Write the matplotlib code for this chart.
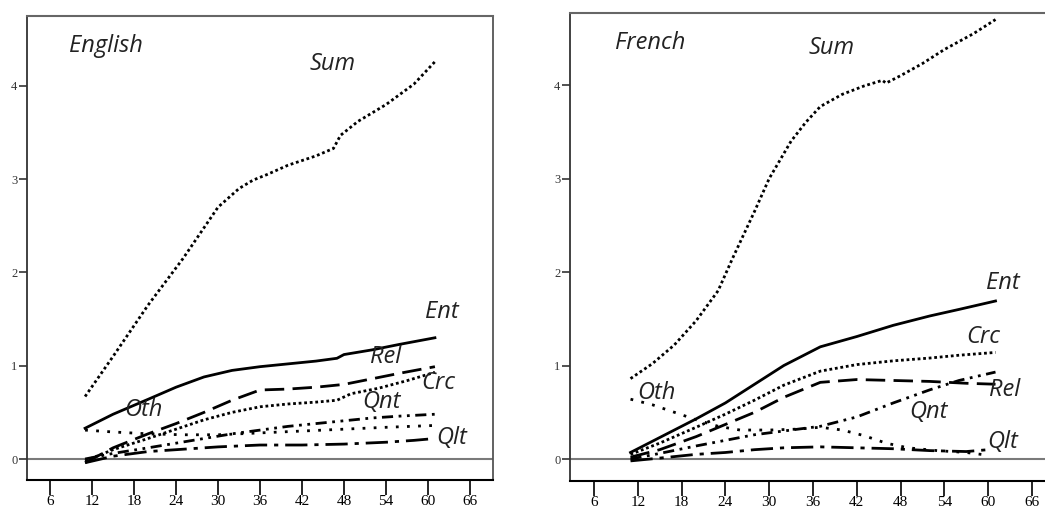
import matplotlib.pyplot as plt
import numpy as np

# Datos (edad en meses vs. puntaje)
# --- English ---
en_sum_x = [11, 15, 20, 25, 30, 33, 35, 37, 40, 44, 46.5, 47.5, 50, 54, 58, 61]
en_sum_y = [0.67, 1.1, 1.65, 2.15, 2.7, 2.9, 2.99, 3.05, 3.15, 3.25, 3.33, 3.47, 3.62, 3.8, 4.02, 4.26]
en_ent_x = [11, 15, 20, 24, 28, 32, 36, 40, 44, 47, 48, 52, 56, 61]
en_ent_y = [0.33, 0.48, 0.64, 0.77, 0.88, 0.95, 0.99, 1.02, 1.05, 1.08, 1.12, 1.17, 1.23, 1.30]
en_rel_x = [11, 15, 20, 24, 28, 32, 36, 40, 44, 48, 52, 56, 61]
en_rel_y = [-0.04, 0.12, 0.27, 0.38, 0.5, 0.63, 0.74, 0.75, 0.77, 0.8, 0.86, 0.92, 0.99]
en_crc_x = [11, 15, 20, 24, 28, 32, 36, 40, 44, 47, 49, 53, 57, 61]
en_crc_y = [-0.02, 0.1, 0.22, 0.32, 0.42, 0.5, 0.56, 0.59, 0.61, 0.63, 0.7, 0.76, 0.84, 0.93]
en_qnt_x = [11, 15, 20, 24, 28, 32, 36, 40, 44, 48, 52, 56, 61]
en_qnt_y = [0.0, 0.06, 0.12, 0.17, 0.22, 0.27, 0.31, 0.35, 0.38, 0.41, 0.44, 0.46, 0.48]
en_oth_x = [11, 15, 20, 25, 30, 36, 42, 48, 54, 61]
en_oth_y = [0.31, 0.29, 0.27, 0.26, 0.26, 0.28, 0.3, 0.32, 0.34, 0.36]
en_qlt_x = [11, 15, 20, 24, 30, 36, 42, 48, 54, 58, 61]
en_qlt_y = [-0.04, 0.03, 0.08, 0.1, 0.13, 0.15, 0.15, 0.16, 0.18, 0.2, 0.22]

# --- French ---
fr_sum_x = [11, 14, 17, 20, 23, 25, 28, 30, 33, 35, 37, 40, 43, 45.5, 46, 48, 51, 54, 58, 61]
fr_sum_y = [0.86, 1.02, 1.22, 1.48, 1.8, 2.15, 2.65, 3.0, 3.4, 3.6, 3.77, 3.9, 3.99, 4.05, 4.02, 4.1, 4.23, 4.38, 4.55, 4.7]
fr_ent_x = [11, 15, 20, 24, 28, 32, 37, 42, 47, 52, 56, 61]
fr_ent_y = [0.07, 0.23, 0.43, 0.6, 0.8, 1.0, 1.2, 1.31, 1.43, 1.53, 1.6, 1.69]
fr_crc_x = [11, 15, 20, 24, 28, 32, 37, 42, 47, 52, 56, 61]
fr_crc_y = [0.05, 0.17, 0.34, 0.48, 0.63, 0.79, 0.94, 1.01, 1.05, 1.08, 1.11, 1.14]
fr_rel_x = [11, 15, 20, 24, 28, 32, 37, 42, 47, 52, 57, 61]
fr_rel_y = [0.02, 0.1, 0.24, 0.37, 0.5, 0.66, 0.82, 0.85, 0.84, 0.83, 0.81, 0.8]
fr_qnt_x = [11, 15, 20, 24, 28, 32, 37, 42, 47, 52, 56, 61]
fr_qnt_y = [0.0, 0.06, 0.14, 0.2, 0.26, 0.3, 0.35, 0.45, 0.6, 0.74, 0.84, 0.93]
fr_oth_x = [11, 14, 17, 20, 23, 26, 30, 34, 37, 40, 43, 46, 49, 53, 57, 60]
fr_oth_y = [0.64, 0.58, 0.5, 0.42, 0.35, 0.31, 0.31, 0.32, 0.34, 0.31, 0.25, 0.17, 0.12, 0.09, 0.07, 0.04]
fr_qlt_x = [11, 15, 20, 24, 28, 32, 37, 42, 47, 52, 57, 60]
fr_qlt_y = [-0.02, 0.01, 0.05, 0.07, 0.1, 0.12, 0.13, 0.12, 0.11, 0.09, 0.08, 0.1]

x_ticks = [6, 12, 18, 24, 30, 36, 42, 48, 54, 60, 66]
y_ticks = [0, 1, 2, 3, 4]

# Estilos de linea por categoria
estilos = {
    'Sum': dict(linestyle=(0, (1, 1)), lw=2.0),
    'Ent': dict(linestyle='-', lw=2.0),
    'Rel': dict(linestyle=(0, (7, 3)), lw=2.0),
    'Crc': dict(linestyle=(0, (1, 1)), lw=2.0),
    'Qnt': dict(linestyle=(0, (4, 2, 1, 2, 1, 2)), lw=2.0),
    'Oth': dict(linestyle=(0, (1, 3)), lw=2.0),
    'Qlt': dict(linestyle=(0, (8, 2.5, 1.5, 2.5)), lw=2.0),
}

english = {
    'Sum': (en_sum_x, en_sum_y), 'Ent': (en_ent_x, en_ent_y), 'Rel': (en_rel_x, en_rel_y),
    'Crc': (en_crc_x, en_crc_y), 'Qnt': (en_qnt_x, en_qnt_y), 'Oth': (en_oth_x, en_oth_y),
    'Qlt': (en_qlt_x, en_qlt_y),
}
french = {
    'Sum': (fr_sum_x, fr_sum_y), 'Ent': (fr_ent_x, fr_ent_y), 'Rel': (fr_rel_x, fr_rel_y),
    'Crc': (fr_crc_x, fr_crc_y), 'Qnt': (fr_qnt_x, fr_qnt_y), 'Oth': (fr_oth_x, fr_oth_y),
    'Qlt': (fr_qlt_x, fr_qlt_y),
}

en_labels = {'English': (14, 4.43), 'Sum': (46.4, 4.23), 'Ent': (62, 1.58), 'Rel': (53.9, 1.09),
             'Crc': (61.5, 0.81), 'Qnt': (53.4, 0.61), 'Oth': (19.3, 0.53), 'Qlt': (63.4, 0.22)}
fr_labels = {'French': (13.7, 4.45), 'Sum': (38.6, 4.4), 'Ent': (62, 1.88), 'Crc': (59.3, 1.31),
             'Rel': (62.3, 0.74), 'Qnt': (51.8, 0.5), 'Oth': (14.6, 0.71), 'Qlt': (62, 0.18)}


def panel(ax, datos, etiquetas, xlim, ylim, borde_der=True):
    ax.axhline(0, color='#7a7a7a', lw=1.5, zorder=1)
    for k, (x, y) in datos.items():
        ax.plot(x, y, color='black', zorder=3, **estilos[k])
    for txt, (tx, ty) in etiquetas.items():
        ax.text(tx, ty, txt, fontsize=17, style='italic', family='Open Sans',
                color='#222222', ha='center', va='center')
    ax.set_xlim(*xlim)
    ax.set_ylim(*ylim)
    ax.set_xticks(x_ticks)
    ax.set_yticks(y_ticks)
    ax.tick_params(axis='x', direction='out', length=11, width=1.2, pad=0,
                   labelsize=11)
    ax.tick_params(axis='y', direction='out', length=6, width=1.2, pad=1,
                   labelsize=9, colors='#333333')
    for lab in ax.get_xticklabels() + ax.get_yticklabels():
        lab.set_family('Liberation Serif')
    ax.spines['bottom'].set_linewidth(1.5)
    ax.spines['left'].set_linewidth(1.3)
    ax.spines['left'].set_color('#333333')
    ax.spines['top'].set_color('#666666')
    ax.spines['top'].set_linewidth(1.5)
    if borde_der:
        ax.spines['right'].set_color('#555555')
        ax.spines['right'].set_linewidth(1.3)
    else:
        ax.spines['right'].set_visible(False)


fig = plt.figure(figsize=(10.45, 5.11), dpi=100)
ax1 = fig.add_axes([27 / 1045, 1 - 480 / 511, (493 - 27) / 1045, (480 - 16) / 511])
ax2 = fig.add_axes([570 / 1045, 1 - 481 / 511, (1045 - 570) / 1045, (481 - 13) / 511])

panel(ax1, english, en_labels, (2.7, 69.3), (-0.225, 4.75))
panel(ax2, french, fr_labels, (2.71, 67.78), (-0.235, 4.77), borde_der=False)

fig.savefig('out.png', dpi=100)
